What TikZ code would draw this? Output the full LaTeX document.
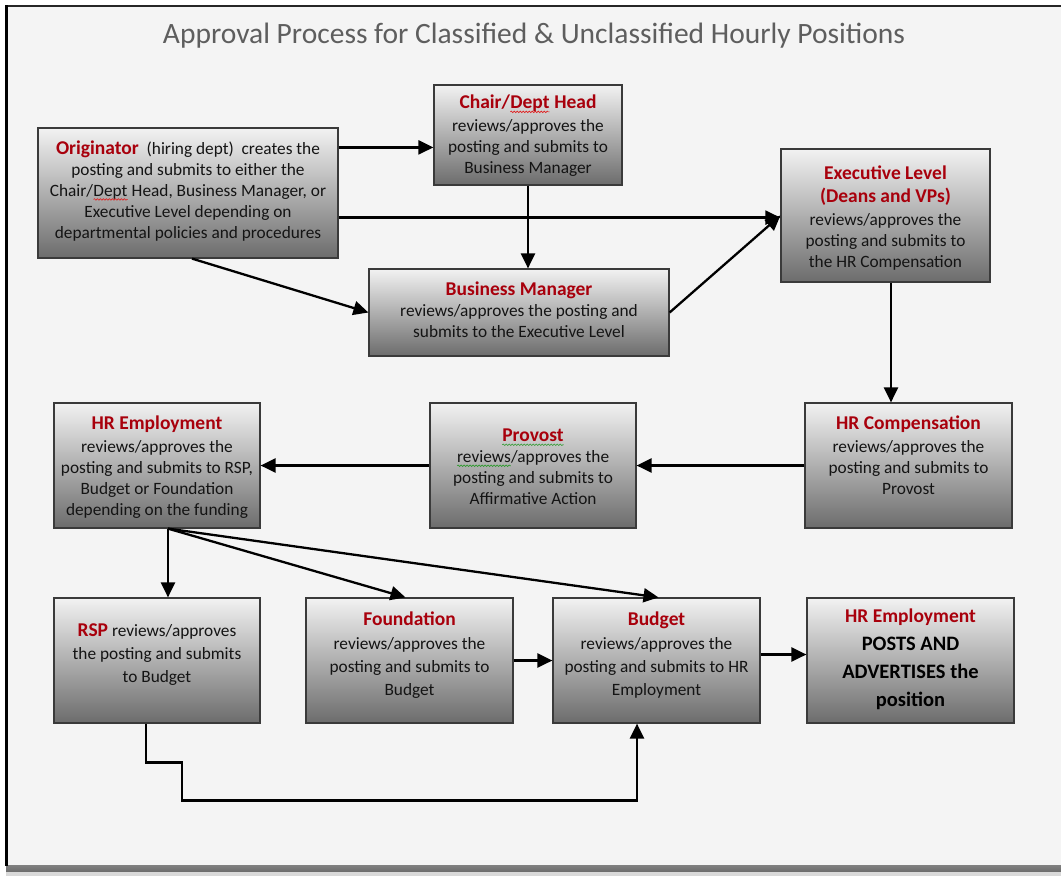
\documentclass[tikz,border=0pt]{standalone}
\usepackage{fontspec}
\setmainfont{Carlito}
\usetikzlibrary{arrows.meta,calc,decorations.pathmorphing}

\definecolor{pagebg}{HTML}{F4F4F4}
\definecolor{titlegrey}{HTML}{5E5E5E}
\definecolor{headred}{HTML}{A8000C}
\definecolor{bodyink}{HTML}{141414}
\definecolor{boxtop}{HTML}{F2F2F2}
\definecolor{boxbottom}{HTML}{6C6C6C}
\definecolor{boxline}{HTML}{3A3A3A}
\definecolor{spellred}{HTML}{E02020}
\definecolor{spellgreen}{HTML}{2E9A2E}

% spell-check style wavy underline under a word
\newcommand{\wavy}[2]{\tikz[x=1pt,y=1pt,baseline=(w.base)]{%
  \node[inner sep=0pt, outer sep=0pt] (w) {#2};
  \draw[#1, line width=0.6pt, decorate, decoration={snake, amplitude=0.8pt, segment length=3pt}]
    ([yshift=-3pt]w.base west) -- ([yshift=-3pt]w.base east);}}
\newcommand{\hd}[1]{{\fontsize{19.5}{24}\selectfont\bfseries\color{headred}#1}}

\tikzset{
  stepbox/.style={draw=boxline, line width=1.2pt, top color=boxtop, bottom color=boxbottom,
    rectangle, inner sep=0pt},
  boxtext/.style={align=center, text=bodyink, inner sep=0pt,
    font=\fontsize{17.3}{21}\selectfont},
  arr/.style={draw=black, line width=2.3pt, -{Triangle[length=15pt,width=14pt]}},
}

\begin{document}
\begin{tikzpicture}[x=1pt, y=-1pt]
\useasboundingbox (0,0) rectangle (1061,876);
% page
\fill[white] (0,0) rectangle (1061,876);
\fill[pagebg] (6,7) rectangle (1061,865);
\shade[top color=black!50, bottom color=black!58] (6,865) rectangle (1061,872);
\fill[black!15] (6,872) rectangle (1061,876);
\draw[black!85, line width=2pt] (5,6) -- (1061,6);
\draw[black, line width=2.6pt] (6.3,5) -- (6.3,866);

% title
\node[text=titlegrey, font=\fontsize{29.5}{34}\selectfont, inner sep=0pt] (title) at (534,36)
  {Approval Process for Classified \& Unclassified Hourly Positions};

% boxes
\node[stepbox, minimum width=300pt, minimum height=130pt] (orig)   at (188,193) {};
\node[stepbox, minimum width=188pt, minimum height=100pt] (chair)  at (528,135) {};
\node[stepbox, minimum width=300pt, minimum height=87pt]  (bm)     at (519,312.5) {};
\node[stepbox, minimum width=209pt, minimum height=133pt] (exec)   at (885.5,215.5) {};
\node[stepbox, minimum width=207pt, minimum height=125pt] (hrcomp) at (908.5,465.5) {};
\node[stepbox, minimum width=206pt, minimum height=125pt] (prov)   at (533,465.5) {};
\node[stepbox, minimum width=206pt, minimum height=125pt] (hremp)  at (157,465.5) {};
\node[stepbox, minimum width=206pt, minimum height=125pt] (rsp)    at (157,660.5) {};
\node[stepbox, minimum width=207pt, minimum height=125pt] (found)  at (409.5,660.5) {};
\node[stepbox, minimum width=207pt, minimum height=125pt] (budget) at (656.5,660.5) {};
\node[stepbox, minimum width=207pt, minimum height=125pt] (final)  at (910.5,660.5) {};

% box texts
\node[boxtext] (origT) at (188,191)
  {\hd{Originator}\ \ (hiring dept)\ \ creates the\\
   posting and submits to either the\\
   Chair/\wavy{spellred}{Dept} Head, Business Manager, or\\
   Executive Level depending on\\
   departmental policies and procedures};
\node[boxtext] (chairT) at (528,136)
  {\hd{Chair/\wavy{spellred}{Dept} Head}\\[2pt]
   reviews/approves the\\
   posting and submits to\\
   Business Manager};
\node[boxtext] (bmT) at (519,310)
  {\hd{Business Manager}\\
   reviews/approves the posting and\\
   submits to the Executive Level};
\node[boxtext] (execT) at (885.5,218)
  {\hd{Executive Level}\\[2pt]
   \hd{(Deans and VPs)}\\[2pt]
   reviews/approves the\\
   posting and submits to\\
   the HR Compensation};
\node[boxtext] (hrcompT) at (908.5,455)
  {\hd{HR Compensation}\\[2pt]
   reviews/approves the\\
   posting and submits to\\
   Provost};
\node[boxtext] (provT) at (533,467)
  {\hd{\wavy{spellgreen}{Provost}}\\
   \wavy{spellgreen}{reviews}/approves the\\
   posting and submits to\\
   Affirmative Action};
\node[boxtext] (hrempT) at (157,467)
  {\hd{HR Employment}\\[2pt]
   reviews/approves the\\
   posting and submits to RSP,\\
   Budget or Foundation\\
   depending on the funding};
\node[boxtext] (rspT) at (157,655)
  {\hd{RSP} reviews/approves\\[2pt]
   the posting and submits\\[2pt]
   to Budget};
\node[boxtext] (foundT) at (409.5,655)
  {\hd{Foundation}\\[3pt]
   reviews/approves the\\[2pt]
   posting and submits to\\[2pt]
   Budget};
\node[boxtext] (budgetT) at (656.5,655)
  {\hd{Budget}\\[3pt]
   reviews/approves the\\[2pt]
   posting and submits to HR\\[2pt]
   Employment};
\node[boxtext, font=\fontsize{20.5}{28}\selectfont\bfseries, text=black] (finalT) at (910.5,659)
  {\hd{HR Employment}\\
   POSTS AND\\
   ADVERTISES the\\
   position};

% connectors
\draw[arr] ([yshift=-20pt]orig.north east) coordinate (o1) -- (o1 -| chair.west);
\draw[arr] ([yshift=41pt]orig.south east) coordinate (o2) -- (o2 -| exec.west);
\draw[arr] ([xshift=4pt]orig.south) -- (bm.west);
\draw[arr] (chair.south) -- (chair.south |- bm.north);
\draw[arr] (bm.east) -- (exec.west);
\draw[arr] ([xshift=5.5pt]exec.south) coordinate (e1) -- (e1 |- hrcomp.north);
\draw[arr] (hrcomp.west) -- (prov.east);
\draw[arr] (prov.west) -- (hremp.east);
\coordinate (h0) at ([xshift=11pt]hremp.south);
\draw[arr] (h0) -- (h0 |- rsp.north);
\draw[arr] (h0) -- ([xshift=-4pt]found.north);
\draw[arr] (h0) -- ([xshift=2pt]budget.north);
\draw[arr] (found.east) -- (budget.west);
\draw[arr] ([yshift=6pt]budget.east) coordinate (b1) -- (b1 -| final.west);
\draw[arr] ([xshift=-11pt]rsp.south) -- ++(0,39) -- ++(36,0) -- ++(0,38)
  -| ([xshift=-19.5pt]budget.south);
\end{tikzpicture}
\end{document}
